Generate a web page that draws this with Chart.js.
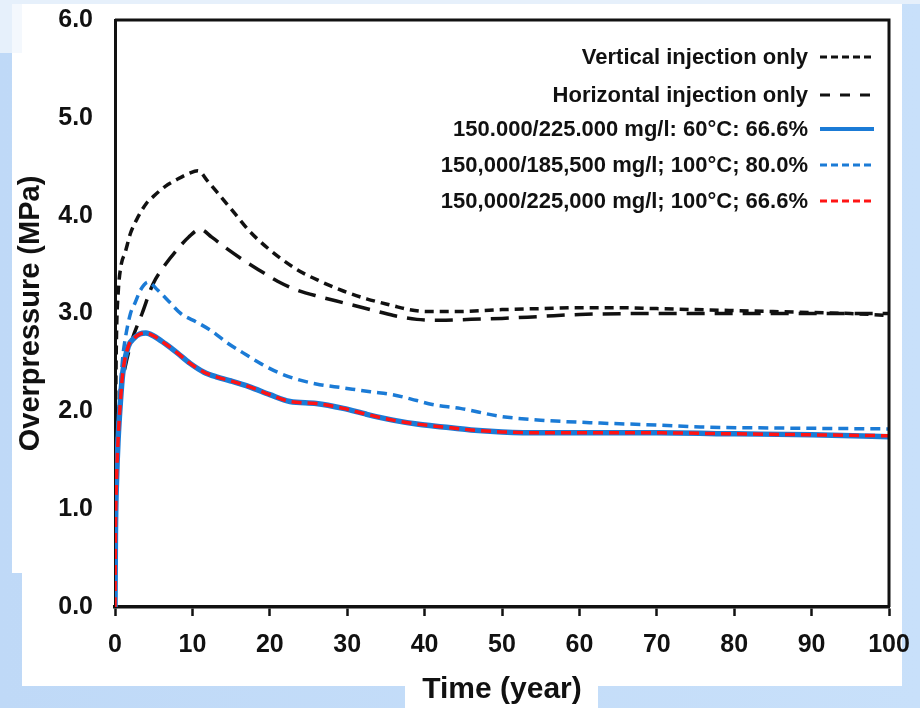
<!DOCTYPE html>
<html><head><meta charset="utf-8">
<script src="https://cdn.jsdelivr.net/npm/chart.js@4.4.0/dist/chart.umd.min.js"></script>
<style>html,body{margin:0;padding:0;background:#c5ddf8;}#wrap{width:920px;height:708px;position:relative;}</style>
</head><body><div id="wrap"><canvas id="c" width="920" height="708"></canvas></div>
<script>
// ---- data ----
const seriesLabels = [
  "Vertical injection only",
  "Horizontal injection only",
  "150.000/225.000 mg/l: 60°C: 66.6%",
  "150,000/185,500 mg/l; 100°C; 80.0%",
  "150,000/225,000 mg/l; 100°C; 66.6%"
];
const xTickValues = [0,10,20,30,40,50,60,70,80,90,100];
const yTickValues = [0,1,2,3,4,5,6];

const vertT = [0,0.1,0.2,0.4,0.8,1.3,2,2.8,4,5,6.5,8,9.5,10.7,12,13.6,15.5,17.4,20,23.5,26.5,29.5,32.5,35.9,38,40.3,44,50,55,60,65,70,75,80,85,90,95,100];
const vertP = [1.2,2.2,2.8,3.2,3.5,3.62,3.82,3.96,4.12,4.2,4.3,4.37,4.43,4.46,4.35,4.2,4.02,3.84,3.65,3.45,3.33,3.23,3.15,3.08,3.04,3.02,3.02,3.04,3.05,3.06,3.06,3.05,3.04,3.03,3.02,3.01,3.0,2.98];

const horT = [0,0.3,0.7,1.3,2.2,3.5,4.9,6.5,8,9.5,11,12.5,14.5,16.5,18.7,21,23.5,26.5,29.5,33,36,39,42,46,50,55,60,70,80,90,100];
const horP = [1.0,1.8,2.2,2.45,2.73,3.0,3.3,3.5,3.65,3.78,3.86,3.78,3.66,3.55,3.44,3.33,3.24,3.17,3.11,3.04,2.98,2.94,2.93,2.94,2.95,2.97,2.99,3.0,3.0,3.0,3.0];

const s60T = [0,0.05,0.2,0.4,0.7,1,1.7,2.5,3.2,4,5,6.5,8,9.7,11.5,13.2,15,17.4,20,22.6,26,29.5,32.5,35.9,39,42.4,46,50,55,60,70,80,90,100];
const s60P = [0,0.7,1.3,1.71,2.1,2.39,2.66,2.75,2.79,2.8,2.77,2.69,2.6,2.49,2.4,2.35,2.31,2.25,2.17,2.1,2.08,2.03,1.97,1.91,1.87,1.84,1.81,1.79,1.78,1.78,1.78,1.77,1.76,1.74];

const s80T = [0,0.1,0.3,0.5,1,1.3,2,2.6,3.3,4.3,5.5,7,8.5,10.6,12.5,14.5,16.5,19,21,23,26,29.5,33,35.9,39,41,44.6,49.7,55,62.7,70,75.6,85,100];
const s80P = [0,1.0,1.7,2.0,2.55,2.73,3.0,3.11,3.24,3.32,3.24,3.12,3.0,2.91,2.82,2.7,2.6,2.48,2.4,2.34,2.28,2.24,2.2,2.17,2.11,2.07,2.03,1.95,1.91,1.88,1.86,1.84,1.83,1.82];

const s66T = [0,0.05,0.2,0.4,0.7,1,1.7,2.5,3.2,4,5,6.5,8,9.7,11.5,13.2,15,17.4,20,22.6,26,29.5,32.5,35.9,39,42.4,46,50,55,60,70,80,90,100];
const s66P = [0,0.7,1.3,1.71,2.1,2.39,2.66,2.75,2.79,2.8,2.77,2.69,2.6,2.49,2.4,2.35,2.31,2.25,2.17,2.1,2.08,2.03,1.97,1.91,1.87,1.84,1.81,1.79,1.78,1.78,1.78,1.77,1.76,1.75];

const pts = (t, p) => t.map((v, i) => ({x: v, y: p[i]}));

// ---- styles ----
const BLUE = '#1b7bd6', RED = '#ff1414', BLACK = '#111111';
const FONT = '"Liberation Sans", Arial, sans-serif';

const datasets = [
  {label: seriesLabels[0], data: pts(vertT, vertP), borderColor: BLACK, borderWidth: 3.5, borderDash: [9,6], order: 5, legendDash: [7,4], legendWidth: 3},
  {label: seriesLabels[1], data: pts(horT, horP), borderColor: BLACK, borderWidth: 3.5, borderDash: [18,10], order: 4, legendDash: [10,10], legendWidth: 3},
  {label: seriesLabels[2], data: pts(s60T, s60P), borderColor: BLUE, borderWidth: 5.5, borderDash: [], order: 2, legendDash: [], legendWidth: 4},
  {label: seriesLabels[3], data: pts(s80T, s80P), borderColor: BLUE, borderWidth: 3.5, borderDash: [10,6], order: 3, legendDash: [7,4], legendWidth: 3},
  {label: seriesLabels[4], data: pts(s66T, s66P), borderColor: RED, borderWidth: 3.5, borderDash: [10,6], order: 1, legendDash: [7,4], legendWidth: 3}
];
datasets.forEach(d => { d.pointRadius = 0; d.fill = false; d.cubicInterpolationMode = 'monotone'; d.borderCapStyle = 'butt'; });

const bgPlugin = {
  id: 'bg',
  beforeDraw(chart) {
    const ctx = chart.ctx;
    ctx.save();
    const g = ctx.createLinearGradient(0, 0, 920, 0);
    g.addColorStop(0, '#bfd9f7'); g.addColorStop(1, '#c8e0fa');
    ctx.fillStyle = g; ctx.fillRect(0, 0, 920, 708);
    ctx.fillStyle = '#e6f0fb';
    ctx.fillRect(0, 0, 920, 4);
    ctx.fillRect(0, 4, 12, 49);
    ctx.fillStyle = '#f4f8fd';
    ctx.fillRect(12, 4, 10, 49);
    ctx.fillStyle = '#ffffff';
    ctx.fillRect(22, 4, 880, 682);
    ctx.fillRect(12, 53, 10, 520);
    ctx.fillRect(405, 686, 193, 22);
    ctx.restore();
  }
};

const framePlugin = {
  id: 'frame',
  afterDatasetsDraw(chart) {
    const {ctx, chartArea: a} = chart;
    ctx.save();
    ctx.strokeStyle = BLACK; ctx.lineWidth = 3; ctx.setLineDash([]);
    ctx.beginPath();
    ctx.moveTo(a.left, a.top); ctx.lineTo(a.right, a.top); ctx.lineTo(a.right, a.bottom);
    ctx.stroke();
    // legend
    const rows = [57, 95, 129, 165, 201];
    ctx.font = 'bold 22px ' + FONT;
    ctx.textAlign = 'right'; ctx.textBaseline = 'middle'; ctx.fillStyle = BLACK;
    chart.data.datasets.forEach((d, i) => {
      const y = rows[i];
      ctx.fillText(d.label, 808, y + 1);
      ctx.beginPath();
      ctx.strokeStyle = d.borderColor; ctx.lineWidth = d.legendWidth;
      ctx.setLineDash(d.legendDash);
      ctx.moveTo(820, y); ctx.lineTo(874, y);
      ctx.stroke();
    });
    ctx.restore();
  }
};

new Chart(document.getElementById('c'), {
  type: 'line',
  data: {datasets},
  plugins: [bgPlugin, framePlugin],
  options: {
    responsive: false, animation: false, devicePixelRatio: 1,
    layout: {padding: {left: 0, right: 31, top: 20, bottom: 0}},
    plugins: {legend: {display: false}, tooltip: {enabled: false}},
    scales: {
      x: {
        type: 'linear', min: 0, max: 100,
        afterBuildTicks: ax => { ax.ticks = xTickValues.map(v => ({value: v})); },
        afterFit: ax => { ax.height = 101; ax.paddingLeft = 0; ax.paddingRight = 0; },
        grid: {display: true, drawOnChartArea: false, drawTicks: true, tickLength: 9, tickWidth: 2.5, tickColor: BLACK},
        border: {display: true, color: BLACK, width: 3.5},
        ticks: {font: {family: FONT, size: 25, weight: 'bold'}, color: BLACK, padding: 14, maxRotation: 0},
        title: {display: true, text: 'Time (year)', font: {family: FONT, size: 30, weight: 'bold'}, color: BLACK, padding: {top: 0, bottom: 0}}
      },
      y: {
        type: 'linear', min: 0, max: 6,
        afterBuildTicks: ax => { ax.ticks = yTickValues.map(v => ({value: v})); },
        afterFit: ax => { ax.width = 115; ax.paddingTop = 0; ax.paddingBottom = 0; },
        grid: {display: false},
        border: {display: true, color: BLACK, width: 3},
        ticks: {font: {family: FONT, size: 25, weight: 'bold'}, color: BLACK, padding: 14, callback: v => Number(v).toFixed(1)},
        title: {display: true, text: 'Overpressure (MPa)', font: {family: FONT, size: 29, weight: 'bold'}, color: BLACK, padding: {top: 14, bottom: 0}}
      }
    }
  }
});
</script></body></html>
